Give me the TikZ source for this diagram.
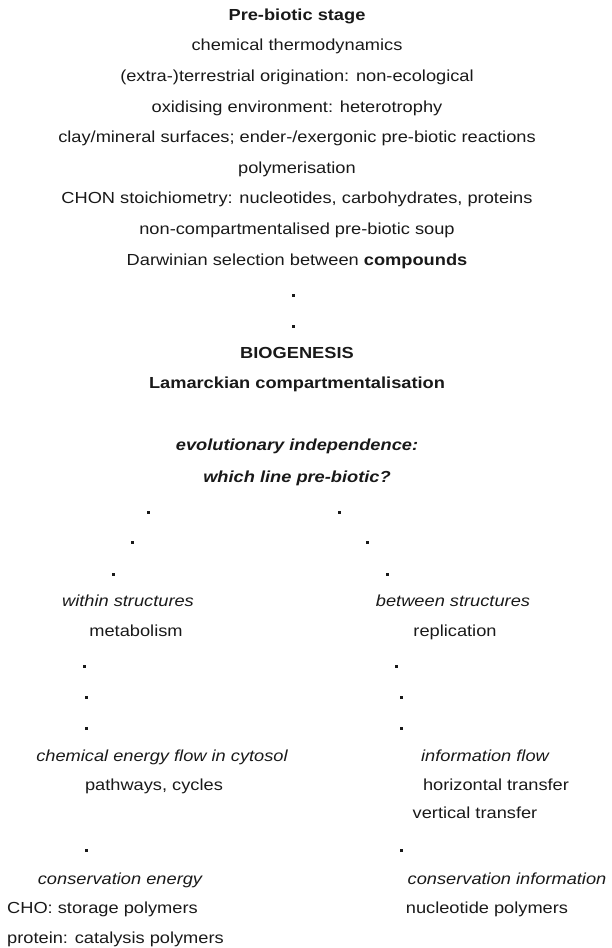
\documentclass[tikz,border=0pt]{standalone}
\usepackage{fontspec}
\setmainfont{Liberation Sans}[FakeStretch=1.14]
\usetikzlibrary{positioning}

\begin{document}
\begin{tikzpicture}[x=1pt, y=-1pt,
    txt/.style={anchor=base, inner sep=0pt, text=black!90, font=\fontsize{16}{19}\selectfont},
    head/.style={txt, font=\fontsize{16}{19}\selectfont\bfseries},
    quest/.style={txt, font=\fontsize{16}{19}\selectfont\bfseries\itshape},
    topic/.style={txt, font=\fontsize{16}{19}\selectfont\itshape},
    dotmark/.style={fill=black!90, inner sep=0pt, minimum size=3pt}]
    \useasboundingbox (0,0) rectangle (611,948);
    % pre-biotic column %
    \node[head] (stage) at (297,20) {Pre-biotic stage};
    \node[txt] (thermo) at (297,50) {chemical thermodynamics};
    \node[txt] (origin) at (297,81) {(extra-)terrestrial origination: non-ecological};
    \node[txt] (oxid) at (297,112) {oxidising environment: heterotrophy};
    \node[txt] (clay) at (297,142) {clay/mineral surfaces; ender-/exergonic pre-biotic reactions};
    \node[txt] (poly) at (297,173) {polymerisation};
    \node[txt] (chon) at (297,203) {CHON stoichiometry: nucleotides, carbohydrates, proteins};
    \node[txt] (soup) at (297,234) {non-compartmentalised pre-biotic soup};
    \node[txt] (darwin) at (297,265) {Darwinian selection between \textbf{compounds}};
    \node[dotmark] (dc1) at (293,295) {};
    \node[dotmark] (dc2) at (293,326) {};
    \node[head] (bio) at (297,358) {BIOGENESIS};
    \node[head] (lamarck) at (297,388) {Lamarckian compartmentalisation};
    \node[quest] (indep) at (297,450) {evolutionary independence:};
    \node[quest] (which) at (297,482) {which line pre-biotic?};
    % left branch %
    \node[dotmark] (dl1) at (148,512) {};
    \node[dotmark] (dl2) at (132,542) {};
    \node[dotmark] (dl3) at (113,574) {};
    \node[topic] (within) at (128,606) {within structures};
    \node[txt] (metab) at (136,636) {metabolism};
    \node[dotmark] (dl4) at (84,666) {};
    \node[dotmark] (dl5) at (86,697) {};
    \node[dotmark] (dl6) at (86,728) {};
    \node[topic] (energy) at (162,761) {chemical energy flow in cytosol};
    \node[txt] (path) at (154,790) {pathways, cycles};
    \node[dotmark] (dl7) at (86,850) {};
    \node[topic] (consen) at (120,884) {conservation energy};
    \node[txt, anchor=base west] (cho) at (7,913) {CHO: storage polymers};
    \node[txt, anchor=base west] (prot) at (7,943) {protein: catalysis polymers};
    % right branch %
    \node[dotmark] (dr1) at (339,512) {};
    \node[dotmark] (dr2) at (367,542) {};
    \node[dotmark] (dr3) at (387,574) {};
    \node[topic] (between) at (453,606) {between structures};
    \node[txt] (repl) at (455,636) {replication};
    \node[dotmark] (dr4) at (396,666) {};
    \node[dotmark] (dr5) at (401,697) {};
    \node[dotmark] (dr6) at (401,728) {};
    \node[topic] (info) at (485,761) {information flow};
    \node[txt] (horiz) at (496,790) {horizontal transfer};
    \node[txt] (vert) at (475,818) {vertical transfer};
    \node[dotmark] (dr7) at (401,850) {};
    \node[topic] (consinf) at (507,884) {conservation information};
    \node[txt] (nucl) at (487,913) {nucleotide polymers};
\end{tikzpicture}
\end{document}
